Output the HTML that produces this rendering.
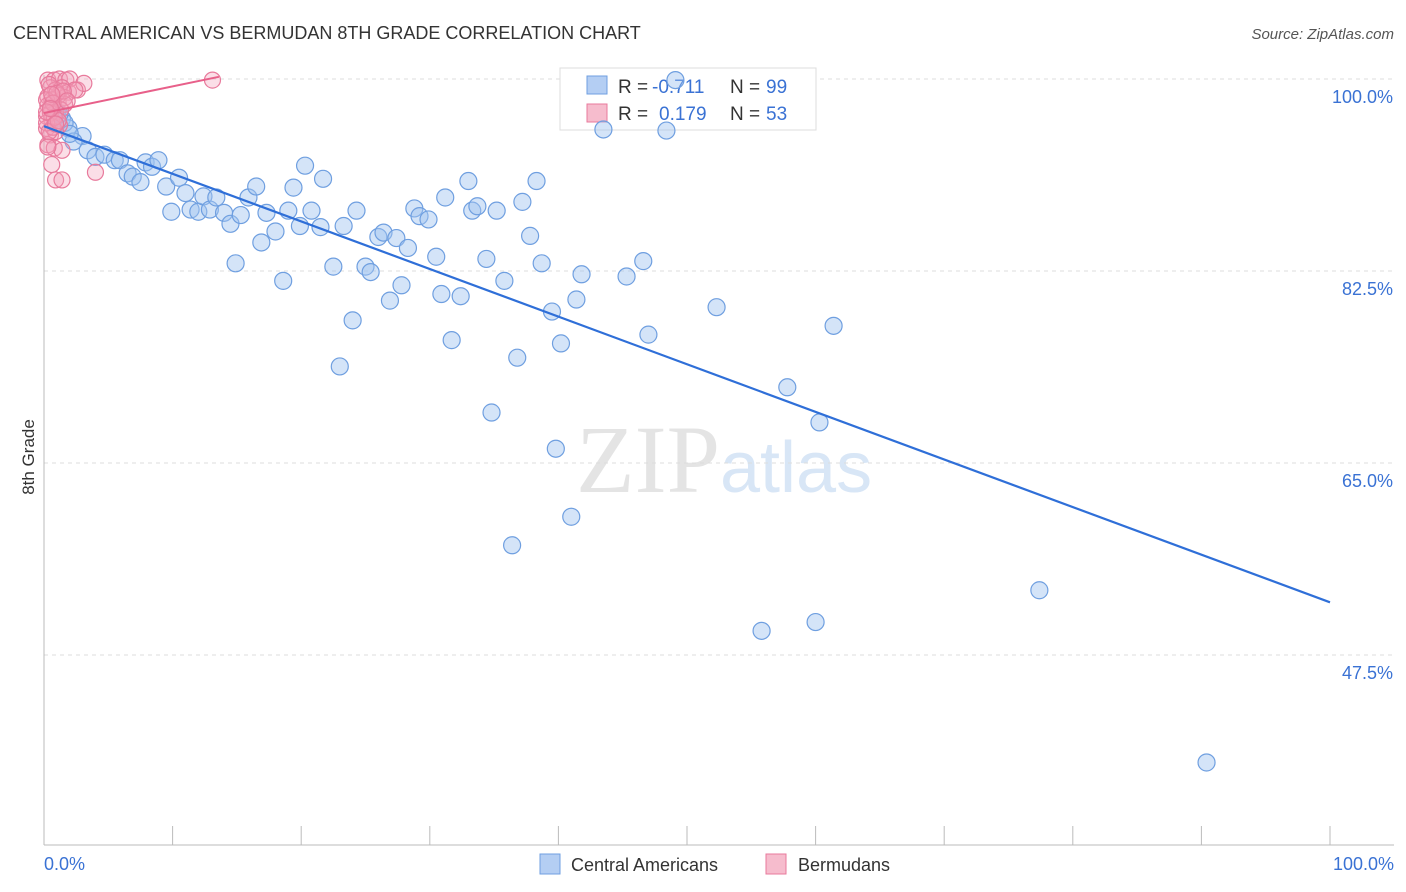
<!DOCTYPE html>
<html><head><meta charset="utf-8"><style>
body{margin:0;background:#fff;font-family:"Liberation Sans",sans-serif;}
svg{display:block}
</style></head><body>
<svg id="chart" width="1406" height="892" viewBox="0 0 1406 892">
<text x="13" y="39" font-size="18" fill="#333">CENTRAL AMERICAN VS BERMUDAN 8TH GRADE CORRELATION CHART</text>
<text x="1394" y="39" font-size="15" fill="#555" font-style="italic" text-anchor="end">Source: ZipAtlas.com</text>
<text x="720" y="492" font-size="96" fill="#e4e4e4" font-family="Liberation Serif,serif" text-anchor="end">ZIP</text>
<text x="720" y="492" font-size="72" fill="#d8e6f6" text-anchor="start">atlas</text>
<text transform="translate(34,457) rotate(-90)" font-size="17" fill="#333" text-anchor="middle">8th Grade</text>
<g id="grid"></g><g id="axes"></g>
<g>
<rect x="560" y="68" width="256" height="62" fill="#fff" stroke="#ddd"/>
<rect x="587" y="76" width="20" height="18" fill="#b4cef3" stroke="#6f9fe0"/>
<rect x="587" y="104" width="20" height="18" fill="#f6bccd" stroke="#e87a9c"/>
<text x="618" y="93" font-size="19" fill="#333">R =</text>
<text x="652" y="93" font-size="19" fill="#3a72d4">-0.711</text>
<text x="730" y="93" font-size="19" fill="#333">N =</text>
<text x="766" y="93" font-size="19" fill="#3a72d4">99</text>
<text x="618" y="120" font-size="19" fill="#333">R =</text>
<text x="659" y="120" font-size="19" fill="#3a72d4">0.179</text>
<text x="730" y="120" font-size="19" fill="#333">N =</text>
<text x="766" y="120" font-size="19" fill="#3a72d4">53</text>
</g>
<g id="marks"></g>
<g>
<rect x="540" y="854" width="20" height="20" fill="#b4cef3" stroke="#6f9fe0"/>
<text x="571" y="871" font-size="18" fill="#333">Central Americans</text>
<rect x="766" y="854" width="20" height="20" fill="#f6bccd" stroke="#e87a9c"/>
<text x="798" y="871" font-size="18" fill="#333">Bermudans</text>
</g>
</svg>
<script>
const yTicks=[100,82.5,65,47.5];
const yTickLabels=["100.0%","82.5%","65.0%","47.5%"];
const xTickLabels=["0.0%","100.0%"];
const blueX=[49.1,43.5,48.4,1.4,1.9,3.0,2.3,3.4,4.0,4.7,5.5,5.9,6.5,6.9,7.5,7.9,8.4,8.9,9.5,9.9,10.5,11.0,11.4,12.0,12.4,12.9,13.4,14.0,14.5,14.9,15.3,15.9,16.5,16.9,17.3,18.0,18.6,19.0,19.4,19.9,20.3,20.8,21.5,21.7,22.5,23.0,23.3,24.0,24.3,25.0,25.4,26.0,26.4,26.9,27.4,27.8,28.3,28.8,29.2,29.9,30.5,30.9,31.2,31.7,32.4,33.0,33.3,33.7,34.4,34.8,35.2,35.8,36.8,36.4,37.2,37.8,38.3,38.7,39.5,39.8,40.2,41.0,41.4,41.8,45.3,46.6,47.0,52.3,55.8,57.8,60.0,60.3,61.4,77.4,90.4,1.0,1.6,2.0,1.2];
const blueY=[99.9,95.4,95.3,96.4,95.5,94.8,94.3,93.5,92.9,93.1,92.6,92.6,91.4,91.1,90.6,92.4,92.0,92.6,90.2,87.9,91.0,89.6,88.1,87.9,89.3,88.1,89.2,87.8,86.8,83.2,87.6,89.2,90.2,85.1,87.8,86.1,81.6,88.0,90.1,86.6,92.1,88.0,86.5,90.9,82.9,73.8,86.6,78.0,88.0,82.9,82.4,85.6,86.0,79.8,85.5,81.2,84.6,88.2,87.5,87.2,83.8,80.4,89.2,76.2,80.2,90.7,88.0,88.4,83.6,69.6,88.0,81.6,74.6,57.5,88.8,85.7,90.7,83.2,78.8,66.3,75.9,60.1,79.9,82.2,82.0,83.4,76.7,79.2,49.7,71.9,50.5,68.7,77.5,53.4,37.7,97.0,96.0,95.0,96.8];
const pinkX=[0.3,0.8,1.2,1.7,2.0,0.5,0.9,1.4,1.9,2.6,0.3,0.6,1.1,1.6,0.5,0.9,0.2,0.6,1.2,0.2,0.5,0.9,0.3,0.8,1.4,0.6,0.9,1.4,4.0,3.1,2.4,13.1,1.1,0.3,0.2,1.6,0.7,0.4,1.0,0.5,1.3,0.2,0.7,1.5,0.4,0.8,0.3,1.1,0.6,0.2,0.9,0.5,1.8];
const pinkY=[99.9,99.9,100,99.9,100,99.2,99.0,99.2,98.8,99.0,98.4,98.1,97.9,98.3,97.4,97.0,96.6,96.3,95.8,95.5,94.9,95.2,94.0,93.7,93.5,92.2,90.8,90.8,91.5,99.6,99.0,99.9,98.5,97.6,98.1,97.7,95.6,99.5,98.7,96.9,97.2,96.0,97.8,98.9,95.2,96.5,93.8,96.2,98.6,97.0,95.9,97.3,98.0];
const blueLine=[95.7,52.3];
const pinkLine=[96.9,100.2,13.6];
const NS="http://www.w3.org/2000/svg";
const X0=44,X1=1330,YTOP=79,PXPER=10.971;
function sx(v){return X0+(X1-X0)*v/100;}
function sy(v){return YTOP+(100-v)*PXPER;}
function mk(tag,attrs,parent){const e=document.createElementNS(NS,tag);for(const k in attrs)e.setAttribute(k,attrs[k]);parent.appendChild(e);return e;}
const grid=document.getElementById('grid'),axes=document.getElementById('axes'),marks=document.getElementById('marks');
yTicks.forEach((t,i)=>{
 const l=mk('line',{x1:44,x2:1394,y1:sy(t),y2:sy(t),stroke:'#ddd','stroke-dasharray':'4,4'},grid);
 
 
 const tx=mk('text',{x:1393,y:sy(t)+24,'font-size':18,fill:'#3a72d4','text-anchor':'end'},axes);
 tx.textContent=yTickLabels[i];
 
 
});
const ax=mk('line',{x1:44,x2:1394,y1:845,y2:845,stroke:'#bbb'},axes);


const ay=mk('line',{x1:44,x2:44,y1:75,y2:845,stroke:'#bbb'},axes);


for(let i=0;i<=10;i++){
 const t=mk('line',{x1:sx(i*10),x2:sx(i*10),y1:826,y2:845,stroke:'#bbb'},axes);
 
 
}
[[0,'start',44],[100,'end',1394]].forEach((d,i)=>{
 const t=mk('text',{x:d[2],y:870,'font-size':18,fill:'#3a72d4','text-anchor':d[1]},axes);
 t.textContent=xTickLabels[i];
 
 
});
blueX.forEach((x,i)=>{
 const c=mk('circle',{cx:sx(x),cy:sy(blueY[i]),r:8.5,fill:'rgba(160,195,240,0.45)',stroke:'#6f9fe0','stroke-width':1.2},marks);
 
 
});
pinkX.forEach((x,i)=>{
 const c=mk('circle',{cx:sx(x),cy:sy(pinkY[i]),r:8,fill:'rgba(244,160,186,0.35)',stroke:'#e87a9c','stroke-width':1.2},marks);
 
 
});
const bl=mk('line',{x1:sx(0),y1:sy(blueLine[0]),x2:sx(100),y2:sy(blueLine[1]),stroke:'#2f6fd8','stroke-width':2.2},marks);


const pl=mk('line',{x1:sx(0),y1:sy(pinkLine[0]),x2:sx(pinkLine[2]),y2:sy(pinkLine[1]),stroke:'#e8608a','stroke-width':2},marks);


</script>
</body></html>
